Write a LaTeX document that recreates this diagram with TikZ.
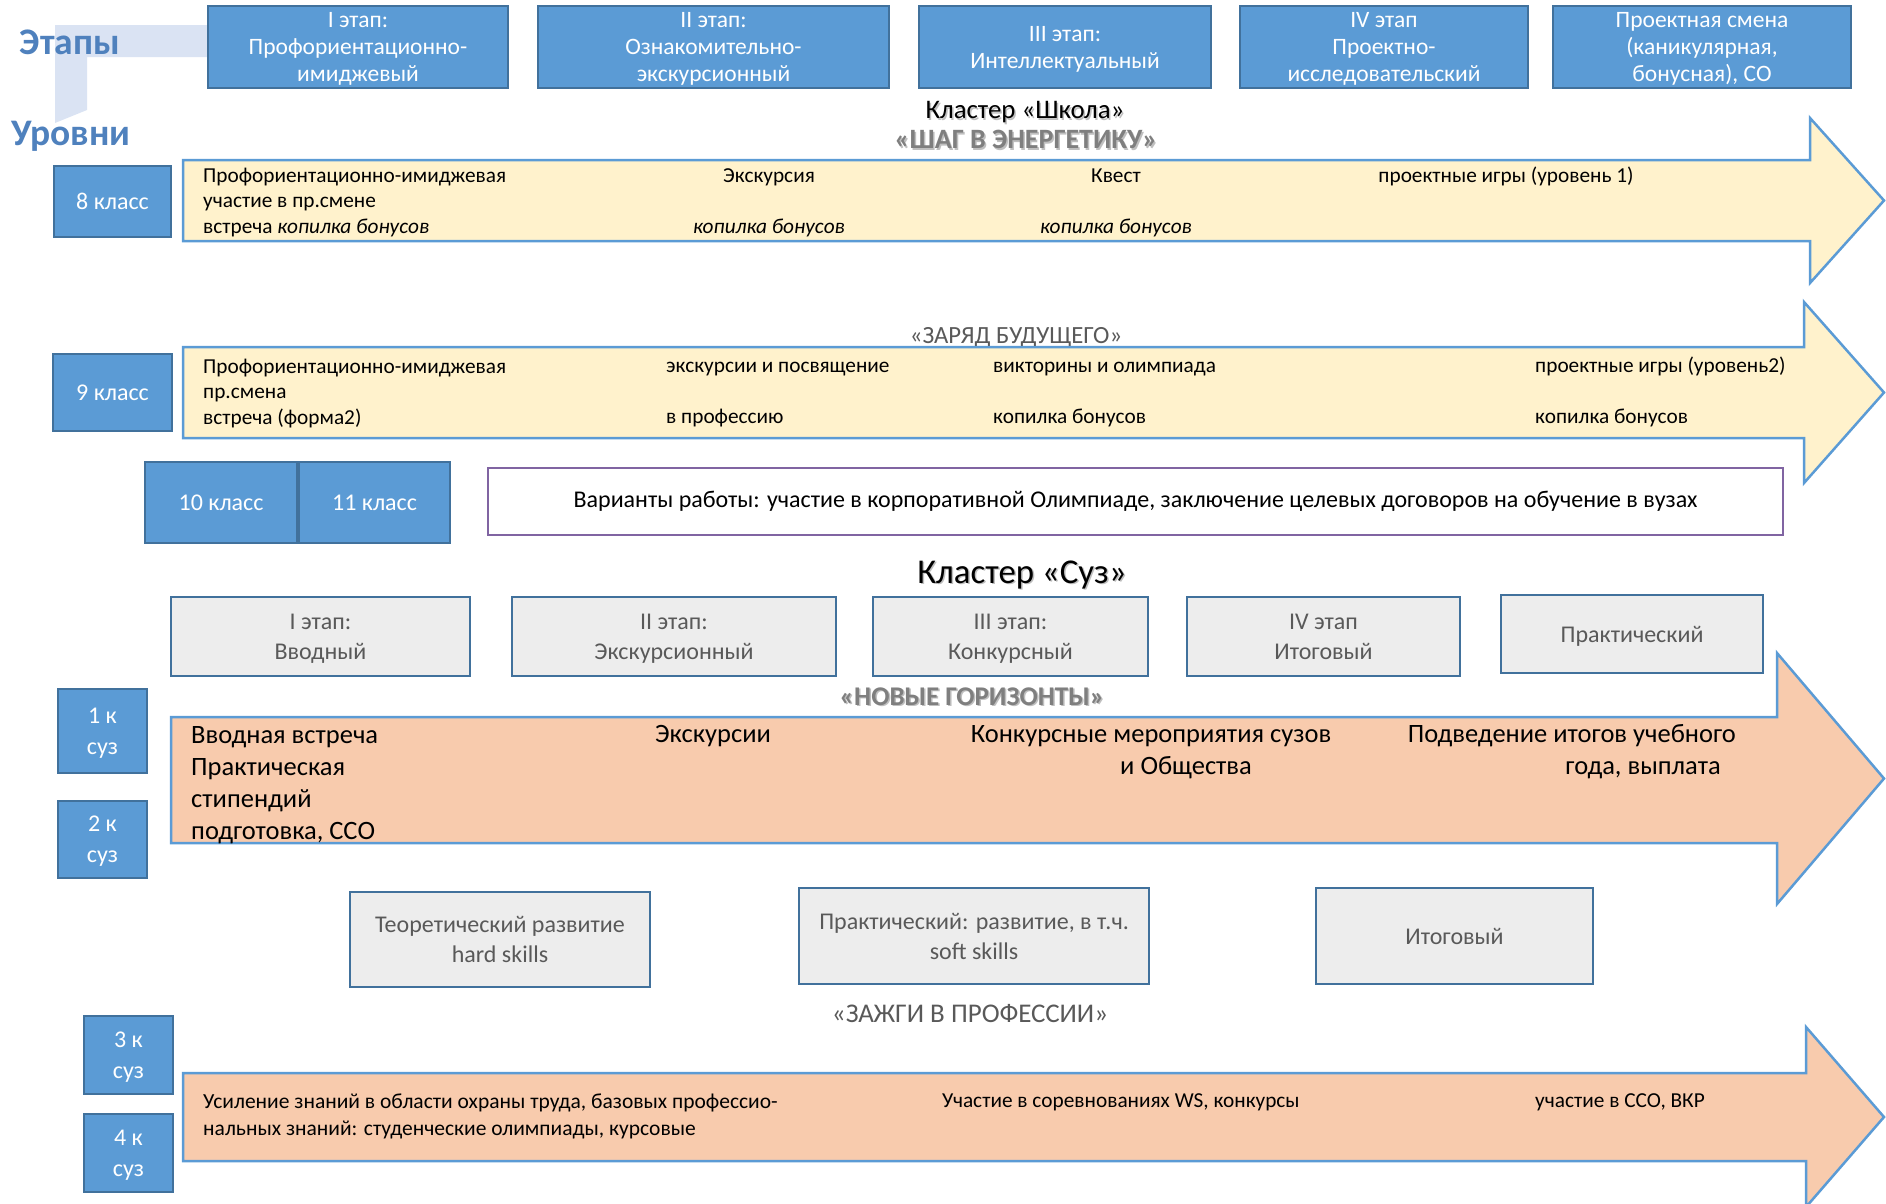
\documentclass[tikz,border=0pt]{standalone}
\usepackage{fontspec}
\setmainfont{Carlito}
\definecolor{boxblue}{HTML}{5B9BD5}
\definecolor{edgeblue}{HTML}{41719C}
\definecolor{paleblue}{HTML}{DAE3F3}
\definecolor{creamfill}{HTML}{FFF2CC}
\definecolor{peachfill}{HTML}{F8CBAD}
\definecolor{boxgrey}{HTML}{EDEDED}
\definecolor{textgrey}{HTML}{595959}
\definecolor{titlegrey}{HTML}{7F7F7F}
\definecolor{frameviolet}{HTML}{8064A2}
\definecolor{headblue}{HTML}{4F81BD}
\newcommand{\shadowed}[1]{\makebox[0pt][l]{\hspace{1.5pt}\raisebox{-1.5pt}{\textcolor{black!25}{#1}}}#1}

\begin{document}
\begin{tikzpicture}[x=1pt,y=-1pt,
	bluestage/.style={draw=edgeblue, line width=2.5pt, fill=boxblue, text=white, align=center, inner sep=0pt, text depth=0pt, font=\fontsize{23.5}{27}\selectfont},
	levelbox/.style={bluestage, font=\fontsize{24}{31}\selectfont},
	greystage/.style={draw=edgeblue, line width=2.5pt, fill=boxgrey, text=textgrey, align=center, inner sep=0pt, text depth=0pt, font=\fontsize{24}{30}\selectfont},
	creamarrow/.style={draw=boxblue, line width=2.5pt, fill=creamfill},
	peacharrow/.style={draw=boxblue, line width=2.5pt, fill=peachfill},
	rowtext/.style={inner sep=0pt, font=\fontsize{21.3}{25.5}\selectfont},
	bigtext/.style={inner sep=0pt, font=\fontsize{26.5}{32}\selectfont},
	headline/.style={inner sep=0pt, font=\bfseries\fontsize{37.5}{42}\selectfont, text=headblue},
]
	\useasboundingbox (0,0) rectangle (1886,1203);

	% bent corner Этапы / Уровни
	\fill[paleblue] (55,25) -- (208,25) -- (208,57) -- (87,57) -- (87,110) -- (55,123) -- cycle;
	\node[headline] (etapy) at (70,42) {Этапы};
	\node[headline] (urovni) at (71,136) {Уровни};

	% stages of the school cluster
	\node[bluestage, minimum width=300pt, minimum height=82pt] (st1) at (358,47) {I этап:\\Профориентационно-\\имиджевый};
	\node[bluestage, minimum width=351pt, minimum height=82pt] (st2) at (713.5,47) {II этап:\\Ознакомительно-\\экскурсионный};
	\node[bluestage, minimum width=292pt, minimum height=82pt] (st3) at (1065,47) {III этап:\\Интеллектуальный};
	\node[bluestage, minimum width=288pt, minimum height=82pt] (st4) at (1384,47) {IV этап\\Проектно-\\исследовательский};
	\node[bluestage, minimum width=298pt, minimum height=82pt] (st5) at (1702,47) {Проектная смена\\(каникулярная,\\бонусная), СО};

	\node[inner sep=0pt, font=\fontsize{26.8}{30}\selectfont] (school) at (1025,113) {\shadowed{Кластер «Школа»}};
	\node[inner sep=0pt, font=\bfseries\fontsize{28}{32}\selectfont, text=titlegrey] (shag) at (1026,140.5) {\shadowed{«ШАГ В ЭНЕРГЕТИКУ»}};

	% 8 класс
	\draw[creamarrow] (183,160) -- (1810,160) -- (1810,118) -- (1884,200.5) -- (1810,283) -- (1810,241) -- (183,241) -- cycle;
	\node[levelbox, minimum width=117pt, minimum height=71pt] (kl8) at (112.5,201.5) {8 класс};
	\node[rowtext, anchor=west, align=left] (r1a) at (203,202.5) {Профориентационно-имиджевая\\участие в пр.смене\\встреча \textit{копилка бонусов}};
	\node[rowtext, align=center] (r1b) at (769,202.5) {Экскурсия\\\mbox{}\\\textit{копилка бонусов}};
	\node[rowtext, align=center] (r1c) at (1116,202.5) {Квест\\\mbox{}\\\textit{копилка бонусов}};
	\node[rowtext] (r1d) at (1506,176.5) {проектные игры (уровень 1)};

	% 9 класс
	\node[inner sep=0pt, font=\fontsize{24.7}{28}\selectfont, text=textgrey] (zaryad) at (1016,337) {«ЗАРЯД БУДУЩЕГО»};
	\draw[creamarrow] (183,347) -- (1804,347) -- (1804,302) -- (1884,392.5) -- (1804,483) -- (1804,438) -- (183,438) -- cycle;
	\node[levelbox, minimum width=119pt, minimum height=77pt] (kl9) at (112.5,392.5) {9 класс};
	\node[rowtext, anchor=west, align=left] (r2a) at (203,393.5) {Профориентационно-имиджевая\\пр.смена\\встреча (форма2)};
	\node[rowtext, anchor=west, align=left] (r2b) at (666,395) {экскурсии и посвящение\\\mbox{}\\в профессию};
	\node[rowtext, anchor=west, align=left] (r2c) at (993,395) {викторины и олимпиада\\\mbox{}\\копилка бонусов};
	\node[rowtext, anchor=west, align=left] (r2d) at (1535,392) {проектные игры (уровень2)\\\mbox{}\\копилка бонусов};

	% 10 и 11 класс
	\node[levelbox, minimum width=152pt, minimum height=81pt] (kl10) at (221,502.5) {10 класс};
	\node[levelbox, minimum width=151pt, minimum height=81pt] (kl11) at (374.5,502.5) {11 класс};
	\node[draw=frameviolet, line width=2pt, fill=white, minimum width=1295pt, minimum height=67pt, inner sep=0pt, font=\fontsize{24}{28}\selectfont] (variants) at (1135.5,501.5) {Варианты работы: участие в корпоративной Олимпиаде, заключение целевых договоров на обучение в вузах};

	% stages of the college cluster
	\node[inner sep=0pt, font=\fontsize{34.8}{40}\selectfont] (suz) at (1022,575.5) {\shadowed{Кластер «Суз»}};
	\node[greystage, minimum width=299pt, minimum height=79pt] (gs1) at (320.5,636.5) {I этап:\\Вводный};
	\node[greystage, minimum width=324pt, minimum height=79pt] (gs2) at (674,636.5) {II этап:\\Экскурсионный};
	\node[greystage, minimum width=275pt, minimum height=79pt] (gs3) at (1010.5,636.5) {III этап:\\Конкурсный};
	\node[greystage, minimum width=273pt, minimum height=79pt] (gs4) at (1323.5,636.5) {IV этап\\Итоговый};
	\node[greystage, minimum width=262pt, minimum height=78pt] (gs5) at (1632,634) {Практический};

	% 1-2 курс
	\node[inner sep=0pt, font=\bfseries\fontsize{27}{31}\selectfont, text=titlegrey] (novye) at (972,697) {\shadowed{«НОВЫЕ ГОРИЗОНТЫ»}};
	\draw[peacharrow] (171,717) -- (1777,717) -- (1777,653) -- (1884,778.5) -- (1777,904) -- (1777,843) -- (171,843) -- cycle;
	\node[levelbox, minimum width=89pt, minimum height=84pt] (k1) at (102.5,731) {1 к\\суз};
	\node[levelbox, minimum width=89pt, minimum height=77pt] (k2) at (102.5,839.5) {2 к\\суз};
	\node[bigtext, anchor=west, align=left] (r3a) at (191,785) {Вводная встреча\\Практическая\\стипендий\\подготовка, ССО};
	\node[bigtext] (r3b) at (713,736) {Экскурсии};
	\node[bigtext, align=center] (r3c) at (1151,752) {Конкурсные мероприятия сузов\\\hspace*{70pt}и Общества};
	\node[bigtext, anchor=east, align=right] (r3d) at (1736,752) {Подведение итогов учебного\\года, выплата\hspace*{15pt}};

	% periods
	\node[greystage, minimum width=300pt, minimum height=95pt] (gp1) at (500,939.5) {Теоретический развитие\\hard skills};
	\node[greystage, minimum width=350pt, minimum height=96pt] (gp2) at (974,936) {Практический: развитие, в т.ч.\\soft skills};
	\node[greystage, minimum width=277pt, minimum height=96pt] (gp3) at (1454.5,936) {Итоговый};

	% 3-4 курс
	\node[inner sep=0pt, font=\fontsize{27}{31}\selectfont, text=textgrey] (zazhgi) at (970,1014) {«ЗАЖГИ В ПРОФЕССИИ»};
	\draw[peacharrow] (183,1073) -- (1806,1073) -- (1806,1027) -- (1884,1117) -- (1806,1207) -- (1806,1161) -- (183,1161) -- cycle;
	\node[levelbox, minimum width=89pt, minimum height=78pt] (k3) at (128.5,1055) {3 к\\суз};
	\node[levelbox, minimum width=89pt, minimum height=78pt] (k4) at (128.5,1153) {4 к\\суз};
	\node[rowtext, anchor=west, align=left, font=\fontsize{21.5}{27}\selectfont] (r4a) at (203,1116.5) {Усиление знаний в области охраны труда, базовых профессио-\\нальных знаний: студенческие олимпиады, курсовые};
	\node[rowtext, anchor=west] (r4b) at (942,1102.5) {Участие в соревнованиях WS, конкурсы};
	\node[rowtext, anchor=west] (r4c) at (1535,1102.5) {участие в ССО, ВКР};
\end{tikzpicture}
\end{document}
